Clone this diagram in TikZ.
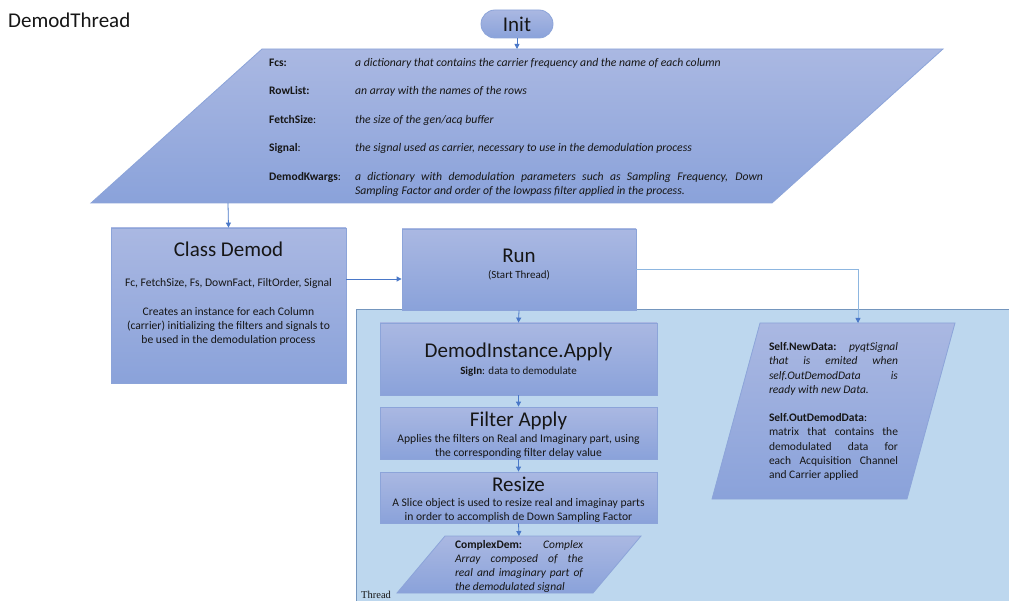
\documentclass[tikz,border=0pt]{standalone}
\usepackage{fontspec}
\setmainfont{Carlito}
\newfontfamily\threadfont{Liberation Serif}
\usetikzlibrary{arrows.meta}
\hyphenpenalty=10000
\exhyphenpenalty=10000

\definecolor{shapetop}{HTML}{AAB8E2}
\definecolor{shapebot}{HTML}{8AA2DA}
\definecolor{shapeedge}{HTML}{8CA4D9}
\definecolor{threadfill}{HTML}{BDD7EE}
\definecolor{threadedge}{HTML}{7496BE}
\definecolor{flow}{HTML}{4A78C8}
\definecolor{flowlight}{HTML}{8DB6E0}
\definecolor{ink}{HTML}{161616}

\tikzset{
  blockshade/.style={top color=shapetop, bottom color=shapebot, draw=shapeedge, line width=0.8pt},
  procbox/.style={blockshade, rectangle, inner sep=0pt},
  flowarrow/.style={draw=flow, line width=0.8pt, -{Triangle[length=5pt,width=5pt]}},
  lightarrow/.style={draw=flowlight, line width=0.8pt, -{Triangle[length=5pt,width=5pt,fill=flow,color=flow]}},
  bigtitle/.style={inner sep=0pt, text=ink, font=\fontsize{21}{24}\selectfont},
  body/.style={inner sep=0pt, text=ink, align=center, font=\fontsize{11.6}{14}\selectfont},
  small/.style={inner sep=0pt, text=ink, align=center, font=\fontsize{11}{13}\selectfont},
  plabel/.style={inner sep=0pt, text=ink, anchor=west, font=\fontsize{11.5}{14}\selectfont\bfseries},
  pdesc/.style={inner sep=0pt, text=ink, anchor=west, font=\fontsize{11.7}{14}\selectfont\itshape},
  note/.style={inner sep=0pt, text=ink, align=justify, font=\fontsize{11.5}{14.2}\selectfont},
}

\begin{document}
\begin{tikzpicture}[x=1pt, y=-1pt]
\useasboundingbox (0,0) rectangle (1009,601);
\fill[white] (0,0) rectangle (1009,601);
\clip (0,0) rectangle (1009,601);

% heading
\node[inner sep=0pt, anchor=west, text=ink, font=\fontsize{21}{24}\selectfont] (heading) at (8,20) {DemodThread};

% thread area
\draw[fill=threadfill, draw=threadedge, line width=0.9pt] (356,309) rectangle (1020,620);
\node[inner sep=0pt, anchor=west, text=ink, font=\threadfont\fontsize{10.5}{12}\selectfont] (threadlbl) at (361,595) {Thread};

% start terminal
\node[procbox, rounded corners=14pt, minimum width=72pt, minimum height=28pt] (init) at (517,24) {};
\node[bigtitle] (inittxt) at (init) {Init};

% parameter block
\shade[blockshade] (262,49) -- (943,49) -- (772,203) -- (91,203) -- cycle;
\coordinate (params-top) at (517,49);
\coordinate (params-bot) at (228,203);
\node[plabel] (lfcs) at (269,63) {Fcs:};
\node[pdesc] (dfcs) at (355,63) {a dictionary that contains the carrier frequency and the name of each column};
\node[plabel] (lrow) at (269,91) {RowList:};
\node[pdesc] (drow) at (355,91) {an array with the names of the rows};
\node[plabel] (lfetch) at (269,120) {FetchSize\mdseries:};
\node[pdesc] (dfetch) at (355,120) {the size of the gen/acq buffer};
\node[plabel] (lsig) at (269,148) {Signal\mdseries:};
\node[pdesc] (dsig) at (355,148) {the signal used as carrier, necessary to use in the demodulation process};
\node[plabel] (lkw) at (269,177) {DemodKwargs\mdseries:};
\node[note, font=\fontsize{11.7}{14}\selectfont\itshape, text width=408pt] (dkw) at (559,184)
  {a dictionary with demodulation parameters such as Sampling Frequency, Down\linebreak Sampling Factor and order of the lowpass filter applied in the process.};

% class block
\node[procbox, minimum width=235pt, minimum height=155pt] (cd) at (228.5,305.5) {};
\node[bigtitle] (cdtitle) at (228.5,249) {Class Demod};
\node[body] (cdargs) at (228.5,283) {Fc, FetchSize, Fs, DownFact, FiltOrder, Signal};
\node[body] (cddesc) at (228.5,326) {Creates an instance for each Column\\(carrier) initializing the filters and signals to\\be used in the demodulation process};

% run block
\node[procbox, minimum width=234pt, minimum height=81pt] (run) at (519,269.5) {};
\node[bigtitle] (runtitle) at (519,256) {Run};
\node[small] (runsub) at (519,275) {(Start Thread)};

% processing chain
\node[procbox, minimum width=277pt, minimum height=72pt] (apply) at (518.5,359) {};
\node[bigtitle] (applytitle) at (518.5,352) {DemodInstance.Apply};
\node[small] (applysub) at (518.5,372) {\textbf{SigIn}: data to demodulate};

\node[procbox, minimum width=277pt, minimum height=52pt] (filt) at (518.5,433) {};
\node[bigtitle] (filttitle) at (518.5,421) {Filter Apply};
\node[body] (filtsub) at (518.5,446.5) {Applies the filters on Real and Imaginary part, using\\the corresponding filter delay value};

\node[procbox, minimum width=277pt, minimum height=51pt] (rsz) at (518.5,497.5) {};
\node[bigtitle] (rsztitle) at (518.5,484) {Resize};
\node[body] (rszsub) at (518.5,510) {A Slice object is used to resize real and imaginay parts\\in order to accomplish de Down Sampling Factor};

% output block
\shade[blockshade] (445,536) -- (641,536) -- (593,593) -- (397,593) -- cycle;
\coordinate (cplx-top) at (519,536);
\node[note, text width=128pt] (cplx) at (519,566.5)
  {\textbf{ComplexDem:} \textit{Complex\linebreak Array composed of the\linebreak real and imaginary part of\linebreak the demodulated signal}};

% signal block
\shade[blockshade] (760,323) -- (955,323) -- (907,499) -- (712,499) -- cycle;
\coordinate (sig-top) at (858,323);
\node[note, text width=129pt] (sigtxt) at (833.5,411.5)
  {\textbf{Self.NewData:} \textit{pyqtSignal\linebreak that is emited when\linebreak self.OutDemodData is\linebreak ready with new Data.}\par\vspace{14.2pt}
   \textbf{Self.OutDemodData}:\newline matrix that contains the\linebreak demodulated data for\linebreak each Acquisition Channel\linebreak and Carrier applied};

% connectors
\draw[flowarrow] (init.south) -- (params-top);
\draw[flowarrow] (params-bot) -- (cd.north);
\draw[flowarrow] ([yshift=26.5pt]cd.east) coordinate (cdout) -- (cdout -| run.west);
\draw[flowarrow] (run.south) -- (apply.north);
\draw[lightarrow] (run.east) -| (sig-top);
\draw[flowarrow] (apply.south) -- (filt.north);
\draw[flowarrow] (filt.south) -- (rsz.north);
\draw[flowarrow] (rsz.south) -- (cplx-top);
\end{tikzpicture}
\end{document}
